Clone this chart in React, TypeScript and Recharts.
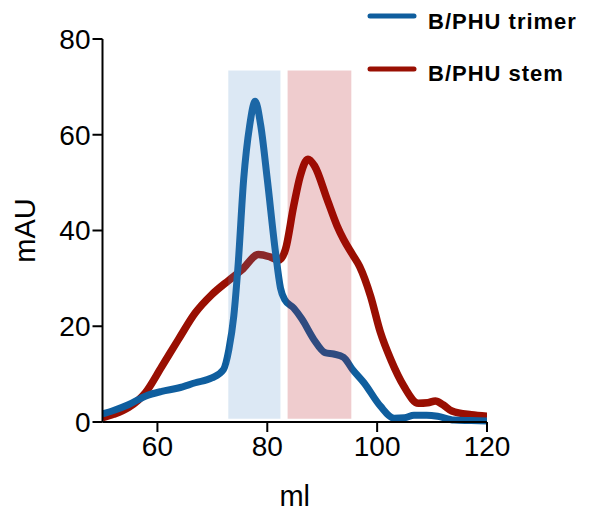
import React from 'react';
import { LineChart, Line, XAxis, YAxis, ReferenceArea } from 'recharts';

const trimerMl = [50, 52, 54.7, 57.8, 60.8, 63.8, 66.9, 69.9, 72.0, 73.0, 73.9, 74.7, 75.7, 76.8, 77.8, 78.8, 80.0, 81.5, 82.4, 83.2, 84.8, 86.3, 88.5, 90.5, 92.1, 93.9, 95.5, 97.6, 100.6, 103.1, 105, 106.7, 109, 111, 114, 117, 120];
const trimerMAU = [1.7, 2.4, 3.6, 5.4, 6.4, 7.1, 8.2, 9.2, 10.9, 15.1, 22.1, 33, 50.7, 62, 67.0, 62, 50.7, 35.4, 28, 25.5, 23.8, 21.5, 17.2, 14.5, 14.2, 13.5, 11, 8.2, 3.3, 0.8, 0.9, 1.4, 1.4, 1.2, 0.4, 0.3, 0.2];

const stemMl = [50, 52, 54.7, 57.8, 60.8, 63.8, 66.9, 69.9, 73.0, 75.4, 78.4, 80.5, 82.1, 83.3, 84.8, 86.0, 87.4, 88.6, 90.9, 92.7, 93.9, 95.5, 96.8, 98.8, 100.6, 102.5, 104.9, 107.5, 109.2, 110.6, 112, 113.6, 117.1, 120];
const stemMAU = [0.9, 1.6, 3.0, 6.1, 11.6, 17.2, 22.8, 26.6, 29.6, 31.8, 35.0, 34.5, 33.8, 36, 45.1, 51.4, 54.9, 53.5, 46.5, 41, 38.1, 35, 32.5, 26.3, 18.7, 13.0, 7.4, 3.9, 4.0, 4.4, 3.6, 2.3, 1.5, 1.2];

const seriesNames = ['B/PHU trimer', 'B/PHU stem'];
const seriesColors = ['#0f5e9e', '#990f02'];

const xTicks = [60, 80, 100, 120];
const yTicks = [0, 20, 40, 60, 80];

const trimerRange = [72.9, 82.4];
const stemRange = [83.7, 95.3];
const shadeTop = 73.4;

const trimerData = trimerMl.map((ml, i) => ({ ml, v: trimerMAU[i] }));
const stemData = stemMl.map((ml, i) => ({ ml, v: stemMAU[i] }));

const FONT = '"Liberation Sans", Arial, Helvetica, sans-serif';

export default function App() {
  return (
    <div style={{ position: 'absolute', left: 0, top: 0, width: 589, height: 513 }}>
      <LineChart width={589} height={513} margin={{ top: 39, right: 102, bottom: 51, left: 42.5 }}>
        <XAxis
          type="number"
          dataKey="ml"
          domain={[50, 120]}
          ticks={xTicks}
          allowDataOverflow
          height={40}
          tickSize={10}
          tickMargin={4}
          stroke="#000"
          strokeWidth={2}
          tick={{ fill: '#000', fontSize: 28, fontFamily: FONT }}
          label={{
            content: (p: any) => {
              const vb = p.viewBox;
              return (
                <text x={vb.x + vb.width / 2} y={506} textAnchor="middle" fontSize={29} fontFamily={FONT} fill="#000">ml</text>
              );
            },
          }}
        />
        <YAxis
          type="number"
          domain={[0, 80]}
          ticks={yTicks}
          width={60}
          tickSize={10}
          tickMargin={2}
          stroke="#000"
          strokeWidth={2}
          tick={{ fill: '#000', fontSize: 28, fontFamily: FONT }}
          label={{
            content: (p: any) => {
              const vb = p.viewBox;
              const cy = vb.y + vb.height / 2;
              return (
                <text x={35} y={cy} transform={`rotate(-90, 35, ${cy})`} textAnchor="middle" fontSize={29} fontFamily={FONT} fill="#000">mAU</text>
              );
            },
          }}
        />
        <Line data={stemData} dataKey="v" type="monotone" stroke={seriesColors[1]} strokeWidth={7.5} dot={false} isAnimationActive={false} />
        <Line data={trimerData} dataKey="v" type="monotone" stroke={seriesColors[0]} strokeWidth={7} dot={false} isAnimationActive={false} />
        <ReferenceArea x1={trimerRange[0]} x2={trimerRange[1]} y1={0.7} y2={shadeTop} fill="rgb(80,140,200)" fillOpacity={0.2} stroke="none" zIndex={1000} />
        <ReferenceArea x1={stemRange[0]} x2={stemRange[1]} y1={0.7} y2={shadeTop} fill="rgb(175,0,10)" fillOpacity={0.2} stroke="none" zIndex={1000} />
      </LineChart>
      <svg width={589} height={100} style={{ position: 'absolute', left: 0, top: 0, pointerEvents: 'none' }}>
        {seriesNames.map((name, i) => (
          <g key={name}>
            <line x1={370} x2={414} y1={16 + i * 53} y2={16 + i * 53} stroke={seriesColors[i]} strokeWidth={5} strokeLinecap="round" />
            <text x={428} y={28.5 + i * 52.5} fontSize={22} fontWeight="bold" fontFamily={FONT} letterSpacing={1} fill="#000">{name}</text>
          </g>
        ))}
      </svg>
    </div>
  );
}
